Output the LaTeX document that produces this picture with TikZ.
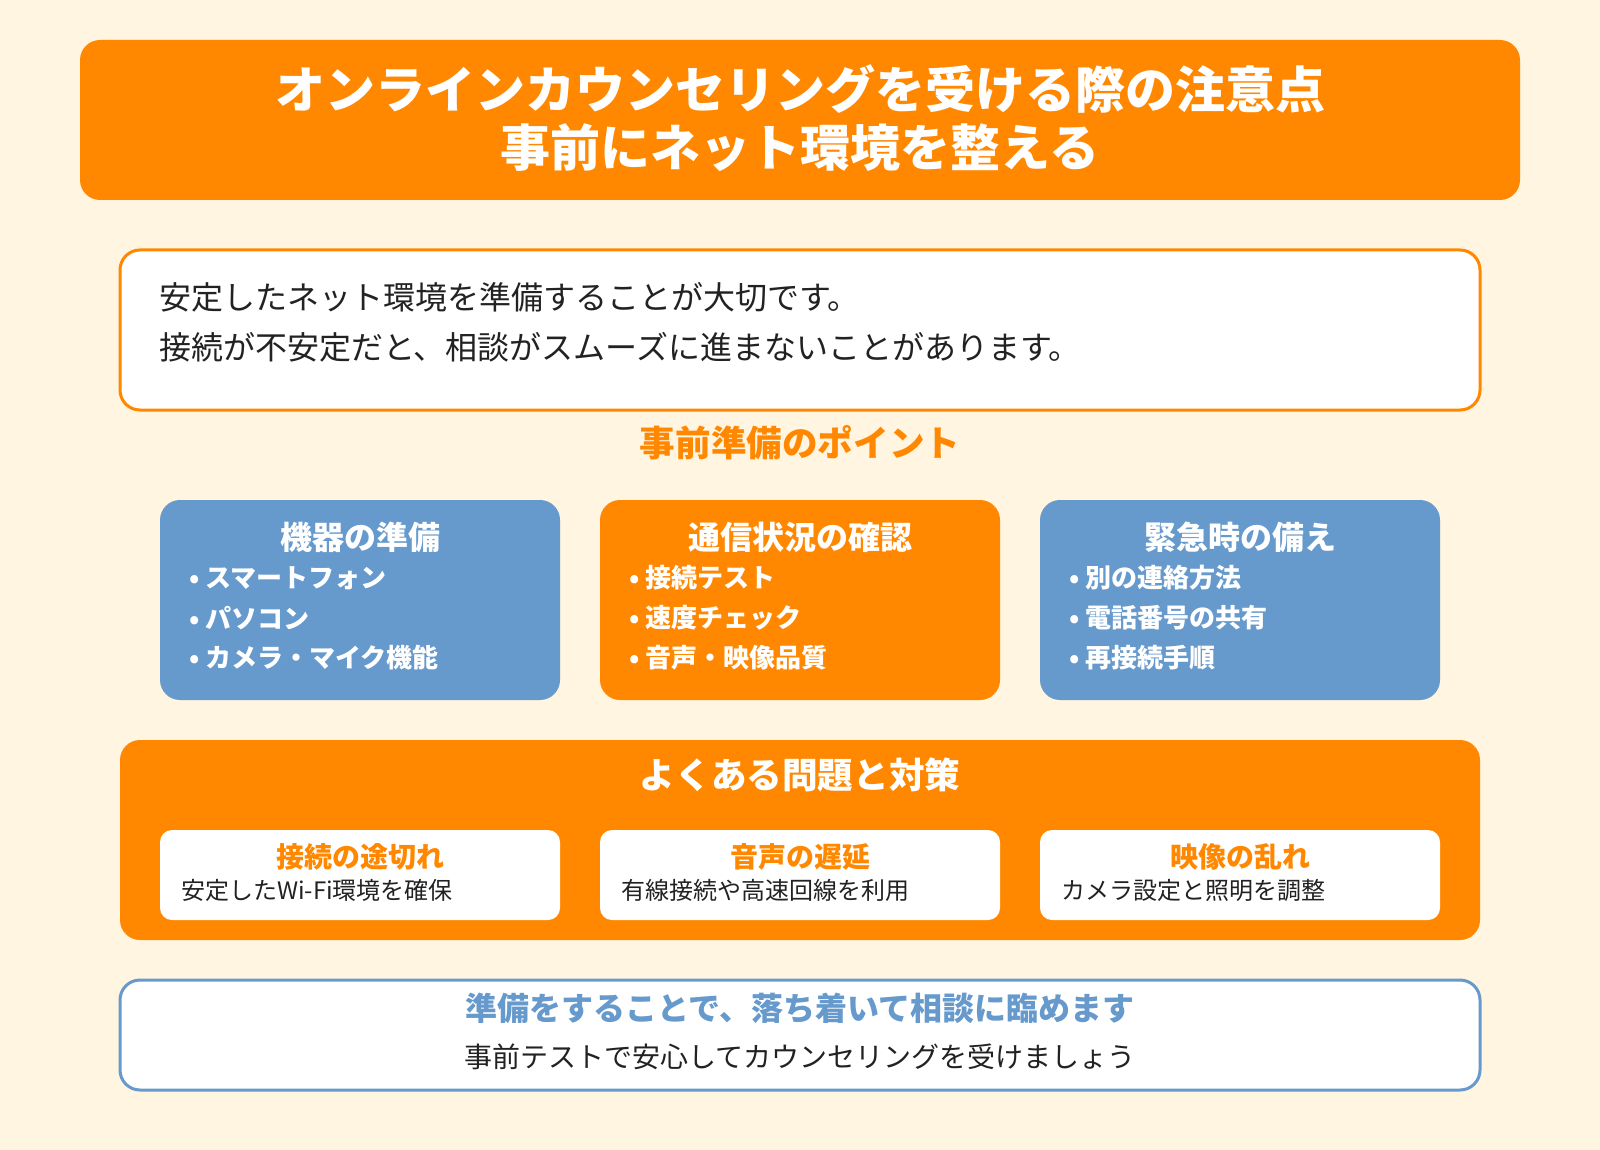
\documentclass[tikz,border=0pt]{standalone}
\usepackage{fontspec}
\setmainfont{Noto Sans CJK JP}
\usetikzlibrary{positioning}
\definecolor{bgcream}{HTML}{FFF5E1}
\definecolor{orng}{HTML}{FF8800}
\definecolor{blu}{HTML}{6699CC}
\definecolor{txt}{HTML}{222222}
\tikzset{
  card/.style={rounded corners=10pt, draw=none},
  head/.style={font=\fontsize{16}{19}\selectfont\bfseries, text=white},
  item/.style={font=\fontsize{13}{16}\selectfont\bfseries, text=white, anchor=west},
}
\begin{document}
\begin{tikzpicture}[x=0.5pt,y=-0.5pt]
                \fill[bgcream] (0,0) rectangle (1600,1150);
                \useasboundingbox (0,0) rectangle (1600,1150);

                % title
                \fill[orng, rounded corners=10pt] (80,40) rectangle (1520,200);
                \node[font=\fontsize{25}{29}\selectfont\bfseries, text=white, align=center] (T) at (800,118)
                  {オンラインカウンセリングを受ける際の注意点\\事前にネット環境を整える};

                % intro
                \draw[orng, line width=1.5pt, fill=white, rounded corners=10pt] (120,250) rectangle (1480,410);
                \node[font=\fontsize{16}{25}\selectfont, text=txt, anchor=west, align=left] (I) at (152,322)
                  {安定したネット環境を準備することが大切です。\\接続が不安定だと、相談がスムーズに進まないことがあります。};

                \node[font=\fontsize{17.8}{21}\selectfont\bfseries, text=orng] (P) at (800,443) {事前準備のポイント};

                % three cards
                \foreach \x/\c/\h/\a/\b/\d in {160/blu/機器の準備/スマートフォン/パソコン/カメラ・マイク機能,
                    600/orng/通信状況の確認/接続テスト/速度チェック/音声・映像品質,
                    1040/blu/緊急時の備え/別の連絡方法/電話番号の共有/再接続手順} {
                  \fill[\c, card] (\x,500) rectangle (\x+400,700);
                  \node[head] at (\x+200,537) {\h};
                  \node[item] at (\x+22,578) {• \a};
                  \node[item] at (\x+22,618) {• \b};
                  \node[item] at (\x+22,658) {• \d};
                }

                % problems
                \fill[orng, card] (120,740) rectangle (1480,940);
                \node[font=\fontsize{17.8}{21}\selectfont\bfseries, text=white] (Q) at (800,775) {よくある問題と対策};
                \foreach \x/\h/\d in {160/接続の途切れ/安定したWi-Fi環境を確保,
                    600/音声の遅延/有線接続や高速回線を利用,
                    1040/映像の乱れ/カメラ設定と照明を調整} {
                  \fill[white, rounded corners=6pt] (\x,830) rectangle (\x+400,920);
                  \node[font=\fontsize{14}{17}\selectfont\bfseries, text=orng] at (\x+200,857) {\h};
                  \node[font=\fontsize{12}{15}\selectfont, text=txt, anchor=west] at (\x+14,890) {\d};
                }

                % closing
                \draw[blu, line width=1.5pt, fill=white, rounded corners=10pt] (120,980) rectangle (1480,1090);
                \node[font=\fontsize{16}{20}\selectfont\bfseries, text=blu] (C) at (800,1008) {準備をすることで、落ち着いて相談に臨めます};
                \node[font=\fontsize{14}{17}\selectfont, text=txt] (D) at (800,1057) {事前テストで安心してカウンセリングを受けましょう};
\end{tikzpicture}
\end{document}
